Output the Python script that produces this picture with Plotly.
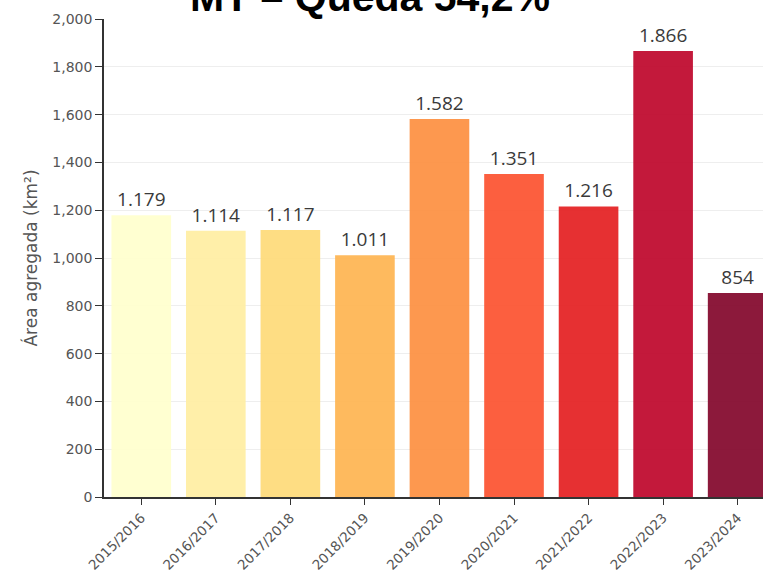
import plotly.graph_objects as go

categories = ["2015/2016", "2016/2017", "2017/2018", "2018/2019", "2019/2020",
              "2020/2021", "2021/2022", "2022/2023", "2023/2024"]
values = [1179, 1114, 1117, 1011, 1582, 1351, 1216, 1866, 854]
labels = ["1.179", "1.114", "1.117", "1.011", "1.582", "1.351", "1.216", "1.866", "854"]
colors = ["#FFFFCC", "#FFEDA0", "#FED976", "#FEB24C", "#FD8D3C",
          "#FC4E2A", "#E31A1C", "#BD0026", "#800026"]
y_ticks = [0, 200, 400, 600, 800, 1000, 1200, 1400, 1600, 1800, 2000]
title_text = "<b>MT – Queda 54,2%</b>"

tick_font = "DejaVu Sans, Verdana, sans-serif"

fig = go.Figure()
fig.add_trace(go.Bar(
    x=list(range(len(categories))),
    y=values,
    marker=dict(color=colors, opacity=0.9, line=dict(width=0)),
    text=labels,
    textposition="outside",
    textfont=dict(family="Open Sans, Noto Sans, sans-serif", size=19, color="#3a3a3a"),
    cliponaxis=False,
    width=0.8,
    hoverinfo="skip",
))

fig.add_annotation(
    text=title_text, showarrow=False,
    xref="paper", yref="paper", x=0.4036, y=1.0,
    xanchor="center", yanchor="bottom", yshift=-3,
    font=dict(family="Liberation Sans, Arial, sans-serif", size=41, color="black"),
)

fig.update_layout(
    width=763, height=572,
    margin=dict(l=104, r=0, t=19, b=75, autoexpand=False),
    paper_bgcolor="white", plot_bgcolor="white",
    showlegend=False,
    xaxis=dict(
        range=[-0.5, 8.34],
        automargin=False,
        tickmode="array",
        tickvals=list(range(len(categories))),
        ticktext=categories,
        tickangle=-45,
        ticks="outside", ticklen=6, tickcolor="#333333",
        showline=True, linecolor="#333333", linewidth=1.5,
        showgrid=False, zeroline=False,
        tickfont=dict(family=tick_font, size=13.5, color="#555555"),
    ),
    yaxis=dict(
        range=[0, 2000],
        automargin=False,
        tickmode="array",
        tickvals=y_ticks,
        tickformat=",d",
        ticks="outside", ticklen=7, tickcolor="#333333",
        showline=True, linecolor="#333333", linewidth=1.5,
        showgrid=True, gridcolor="#eeeeee", gridwidth=1,
        zeroline=False,
        tickfont=dict(family=tick_font, size=14, color="#555555"),
        title=dict(text="Área agregada (km²)",
                   font=dict(family=tick_font, size=17, color="#555555"),
                   standoff=10),
    ),
)

fig.write_html("out.html", config={"displayModeBar": False},
               post_script="document.body.style.margin='0';")
